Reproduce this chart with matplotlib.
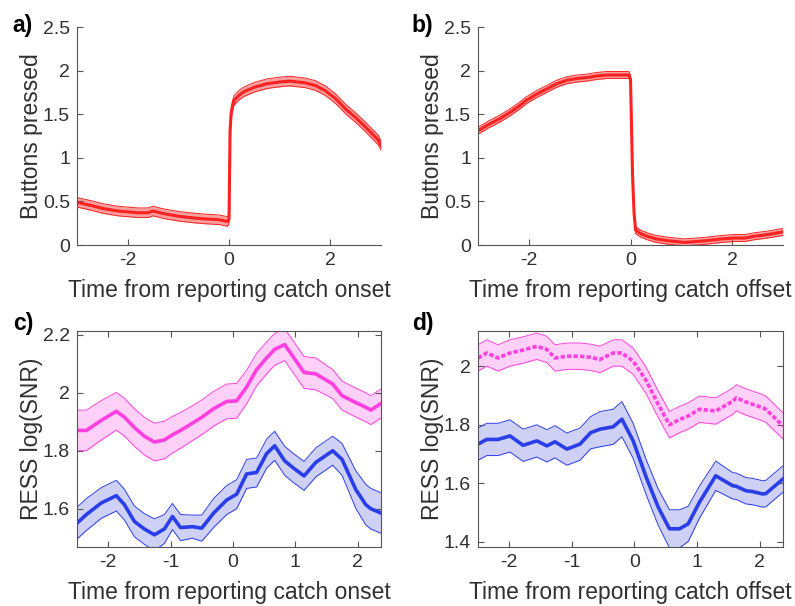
import matplotlib
matplotlib.use('Agg')
import matplotlib.pyplot as plt
from matplotlib.ticker import FormatStrFormatter
import numpy as np

plt.rcParams['font.family'] = ['Liberation Sans', 'DejaVu Sans']

# panel a: buttons pressed around catch onset
t_a = [-3.0, -2.7, -2.5, -2.2, -2.0, -1.8, -1.6, -1.5, -1.3, -1.0, -0.7, -0.5, -0.2, -0.03, 0.0,
       0.02, 0.04, 0.07, 0.1, 0.2, 0.3, 0.5, 0.75, 1.0, 1.2, 1.5, 1.7, 1.9, 2.1, 2.3, 2.5,
       2.7, 2.85, 2.95, 3.0]
y_a = [0.49, 0.45, 0.42, 0.39, 0.38, 0.37, 0.37, 0.39, 0.36, 0.33, 0.31, 0.30, 0.29, 0.27, 0.30,
       1.30, 1.50, 1.60, 1.66, 1.72, 1.76, 1.81, 1.85, 1.87, 1.88, 1.86, 1.83, 1.77, 1.68, 1.56, 1.46,
       1.35, 1.26, 1.20, 1.14]
sem_a = 0.055

# panel b: buttons pressed around catch offset
t_b = [-3.0, -2.8, -2.57, -2.4, -2.2, -2.05, -1.85, -1.65, -1.45, -1.25, -1.05, -0.86, -0.65,
       -0.46, -0.25, -0.03, 0.0, 0.04, 0.07, 0.1, 0.2, 0.33, 0.5, 0.72, 0.9, 1.05, 1.3, 1.5,
       1.8, 2.03, 2.25, 2.43, 2.7, 3.0]
y_b = [1.31, 1.38, 1.45, 1.51, 1.59, 1.66, 1.73, 1.79, 1.85, 1.89, 1.91, 1.92, 1.94,
       1.95, 1.95, 1.95, 1.90, 0.80, 0.36, 0.17, 0.13, 0.10, 0.07, 0.05, 0.04, 0.03, 0.04, 0.05,
       0.07, 0.08, 0.08, 0.10, 0.12, 0.15]
sem_b = 0.04

# panel c: RESS SNR around catch onset
t_c = [-2.5, -2.35, -2.11, -1.87, -1.74, -1.58, -1.42, -1.26, -1.1, -0.97, -0.84, -0.65, -0.5,
       -0.31, -0.1, 0.06, 0.22, 0.38, 0.54, 0.67, 0.83, 0.96, 1.14, 1.33, 1.6, 1.75, 1.97,
       2.13, 2.21, 2.375]
mag_c = [1.87, 1.87, 1.905, 1.936, 1.916, 1.88, 1.85, 1.83, 1.837, 1.855, 1.87, 1.895, 1.915,
         1.945, 1.97, 1.972, 2.02, 2.08, 2.12, 2.15, 2.166, 2.126, 2.07, 2.065, 2.03, 1.99, 1.966,
         1.95, 1.94, 1.963]
mag_c_sem = [0.07, 0.07, 0.068, 0.065, 0.065, 0.065, 0.065, 0.065, 0.065, 0.063, 0.062, 0.06, 0.06,
             0.06, 0.06, 0.06, 0.058, 0.056, 0.055, 0.055, 0.055, 0.055, 0.055, 0.055, 0.05, 0.05, 0.05,
             0.05, 0.05, 0.05]
blu_c = [1.55, 1.58, 1.62, 1.645, 1.614, 1.556, 1.53, 1.51, 1.53, 1.573, 1.535, 1.538, 1.533,
         1.585, 1.63, 1.65, 1.72, 1.725, 1.79, 1.817, 1.765, 1.742, 1.713, 1.76, 1.80, 1.77, 1.666,
         1.614, 1.60, 1.585]
blu_c_sem = [0.055, 0.055, 0.053, 0.053, 0.053, 0.053, 0.053, 0.055, 0.05, 0.045, 0.045, 0.04, 0.045,
             0.05, 0.05, 0.05, 0.05, 0.05, 0.05, 0.05, 0.05, 0.05, 0.05, 0.05, 0.05, 0.055, 0.065,
             0.07, 0.07, 0.07]

# panel d: RESS SNR around catch offset
t_d = [-2.5, -2.36, -2.18, -1.99, -1.78, -1.56, -1.4, -1.27, -1.08, -0.87, -0.7, -0.55, -0.34,
       -0.2, -0.02, 0.19, 0.38, 0.56, 0.72, 0.86, 1.04, 1.3, 1.57, 1.63, 1.78, 1.89, 2.05,
       2.1, 2.375]
mag_d = [2.028, 2.045, 2.028, 2.045, 2.055, 2.068, 2.057, 2.028, 2.034, 2.034, 2.03, 2.023, 2.045,
         2.045, 2.017, 1.95, 1.87, 1.80, 1.818, 1.83, 1.853, 1.847, 1.88, 1.892, 1.878, 1.87, 1.858,
         1.853, 1.796]
mag_d_sem = [0.045] * len(t_d)
blu_d = [1.734, 1.75, 1.75, 1.762, 1.73, 1.745, 1.728, 1.742, 1.717, 1.734, 1.773, 1.785, 1.793,
         1.819, 1.745, 1.62, 1.519, 1.445, 1.445, 1.462, 1.536, 1.626, 1.592, 1.59, 1.575, 1.572, 1.564,
         1.565, 1.615]
blu_d_sem = [0.055, 0.055, 0.055, 0.055, 0.055, 0.055, 0.055, 0.055, 0.055, 0.055, 0.055, 0.06, 0.06,
             0.06, 0.06, 0.06, 0.062, 0.065, 0.065, 0.06, 0.055, 0.05, 0.045, 0.045, 0.045, 0.045, 0.045,
             0.045, 0.045]

RED = '#ff2020'
MAG = '#ff40e0'
BLU = '#2a3ee8'
TXT = '#303030'
AXC = '#555555'


def band(ax, t, y, sem, col, fillcol, ls='-', lw=2.6):
    t = np.asarray(t)
    y = np.asarray(y)
    sem = np.asarray(sem) * np.ones_like(y)
    ax.fill_between(t, y - sem, y + sem, color=fillcol, lw=0)
    ax.plot(t, y - sem, color=col, lw=0.7)
    ax.plot(t, y + sem, color=col, lw=0.7)
    ax.plot(t, y, color=col, lw=lw, ls=ls)


def style(ax, box):
    for s in ax.spines.values():
        s.set_color(AXC)
        s.set_linewidth(0.8)
    if not box:
        ax.spines['top'].set_visible(False)
        ax.spines['right'].set_visible(False)
    ax.tick_params(direction='in', length=4, width=0.8, color=AXC, labelcolor=TXT,
                   labelsize=14, top=box, right=box, pad=5)
    ax.yaxis.set_major_formatter(FormatStrFormatter('%g'))
    ax.xaxis.set_major_formatter(FormatStrFormatter('%g'))


fig = plt.figure(figsize=(7.95, 6.06), dpi=100)

ax_a = fig.add_axes([0.0969, 0.5957, 0.3824, 0.3597])
ax_b = fig.add_axes([0.6013, 0.5957, 0.3836, 0.3597])
ax_c = fig.add_axes([0.0969, 0.0974, 0.3824, 0.3564])
ax_d = fig.add_axes([0.6013, 0.0974, 0.3836, 0.3564])

band(ax_a, t_a, y_a, sem_a, RED, '#f7a0a0', lw=2.2)
band(ax_b, t_b, y_b, sem_b, RED, '#f7a0a0', lw=2.2)
for ax, lab in [(ax_a, 'onset'), (ax_b, 'offset')]:
    ax.set_xlim(-3, 3)
    ax.set_ylim(0, 2.5)
    ax.set_xticks([-2, 0, 2])
    ax.set_yticks([0, 0.5, 1, 1.5, 2, 2.5])
    ax.set_ylabel('Buttons pressed', fontsize=16.5, color=TXT, labelpad=0)
    ax.set_xlabel('Time from reporting catch ' + lab, fontsize=16.5, color=TXT, labelpad=7)
    style(ax, False)

band(ax_c, t_c, mag_c, mag_c_sem, MAG, '#ffd0f8')
band(ax_c, t_c, blu_c, blu_c_sem, BLU, '#cfd0f6')
ax_c.set_xlim(-2.5, 2.375)
ax_c.set_ylim(1.468, 2.213)
ax_c.set_yticks([1.6, 1.8, 2.0, 2.2])

band(ax_d, t_d, mag_d, mag_d_sem, MAG, '#ffd0f8', ls=(0, (1.2, 0.6)))
band(ax_d, t_d, blu_d, blu_d_sem, BLU, '#cfd0f6')
ax_d.set_xlim(-2.5, 2.375)
ax_d.set_ylim(1.383, 2.12)
ax_d.set_yticks([1.4, 1.6, 1.8, 2.0])

for ax, lab in [(ax_c, 'onset'), (ax_d, 'offset')]:
    ax.set_xticks([-2, -1, 0, 1, 2])
    ax.set_ylabel('RESS log(SNR)', fontsize=16.5, color=TXT, labelpad=0)
    ax.set_xlabel('Time from reporting catch ' + lab, fontsize=16.5, color=TXT, labelpad=7)
    style(ax, True)

panel_tags = [('a)', 0.016, 0.958), ('b)', 0.518, 0.958), ('c)', 0.016, 0.466), ('d)', 0.518, 0.466)]
for lab, x, y in panel_tags:
    fig.text(x, y, lab, fontsize=16.5, fontweight='bold', color='black', va='center')

fig.savefig('out.png', dpi=100)
